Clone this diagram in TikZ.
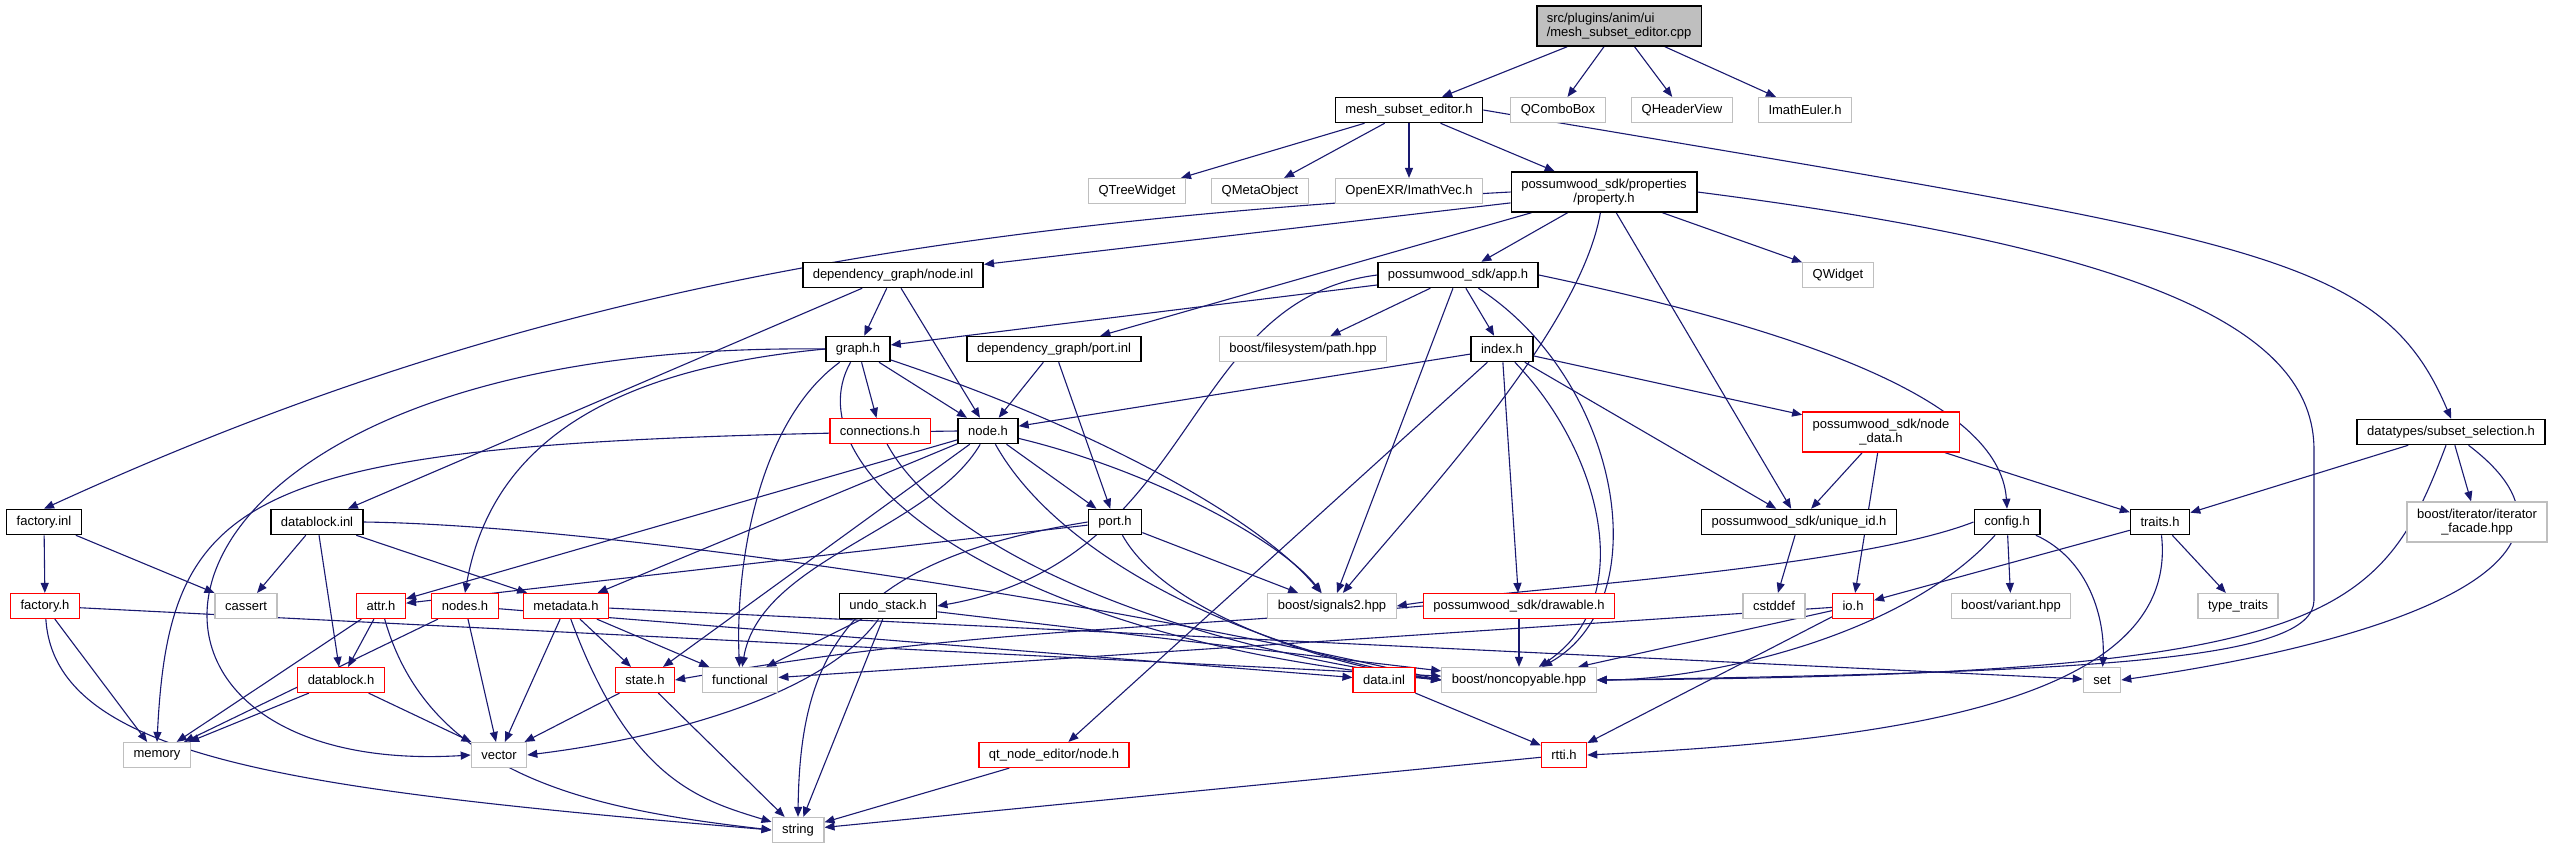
\documentclass[tikz,border=0pt]{standalone}
\usepackage{fontspec}
\setmainfont{Liberation Sans}
\usetikzlibrary{arrows.meta}
\definecolor{edgeblue}{RGB}{25,25,112}
\definecolor{extgray}{RGB}{191,191,191}
\definecolor{truncred}{RGB}{255,0,0}
\pgfdeclarelayer{edges}
\pgfsetlayers{edges,main}

\begin{document}
\begin{tikzpicture}[x=.5pt,y=-.5pt,
 file/.style={draw=black,line width=.75pt,fill=white,inner xsep=5pt,inner ysep=0pt,minimum height=12.5pt,font=\fontsize{6.5}{7.2}\selectfont},
 trunc/.style={file,draw=truncred,line width=.6pt},
 sys/.style={file,draw=extgray,line width=.6pt},
 two/.style={minimum height=20pt,align=center},
 dep/.style={draw=edgeblue,line width=.55pt,-{Triangle[length=5pt,width=4pt]}}]
\useasboundingbox (0,0) rectangle (2573,848);
\node[file,fill=extgray,two,align=left] (root) at (1619,26) {src/plugins/anim/ui\\/mesh\_subset\_editor.cpp};
\node[file] (mse) at (1409,110) {mesh\_subset\_editor.h};
\node[sys] (qcombo) at (1558,110) {QComboBox};
\node[sys] (qheader) at (1682,110) {QHeaderView};
\node[sys] (imatheuler) at (1805,110) {ImathEuler.h};
\node[sys] (qtree) at (1137,191) {QTreeWidget};
\node[sys] (qmeta) at (1260,191) {QMetaObject};
\node[sys] (imathvec) at (1409,191) {OpenEXR/ImathVec.h};
\node[file,two] (prop) at (1604,192) {possumwood\_sdk/properties\\/property.h};
\node[file] (nodeinl) at (893,275) {dependency\_graph/node.inl};
\node[file] (apph) at (1458,275) {possumwood\_sdk/app.h};
\node[sys] (qwidget) at (1838,275) {QWidget};
\node[file] (graphh) at (858,349) {graph.h};
\node[file] (portinl) at (1054,349) {dependency\_graph/port.inl};
\node[sys] (fspath) at (1303,349) {boost/filesystem/path.hpp};
\node[file] (indexh) at (1502,349) {index.h};
\node[trunc] (conn) at (880,431) {connections.h};
\node[file] (nodeh) at (988,431) {node.h};
\node[trunc,two] (nodedata) at (1881,432) {possumwood\_sdk/node\\\_data.h};
\node[file] (subsel) at (2451,432) {datatypes/subset\_selection.h};
\node[file] (factoryinl) at (44,522) {factory.inl};
\node[file] (datablockinl) at (317,522) {datablock.inl};
\node[file] (porth) at (1115,522) {port.h};
\node[file] (uniqueid) at (1799,522) {possumwood\_sdk/unique\_id.h};
\node[file] (configh) at (2007,522) {config.h};
\node[file] (traitsh) at (2160,522) {traits.h};
\node[sys,two] (iterfac) at (2477,522) {boost/iterator/iterator\\\_facade.hpp};
\node[trunc] (factoryh) at (45,606) {factory.h};
\node[sys] (cassert) at (246,606) {cassert};
\node[trunc] (attrh) at (381,606) {attr.h};
\node[trunc] (nodesh) at (465,606) {nodes.h};
\node[trunc] (metadatah) at (566,606) {metadata.h};
\node[file] (undostack) at (888,606) {undo\_stack.h};
\node[sys] (signals) at (1332,606) {boost/signals2.hpp};
\node[trunc] (drawable) at (1519,606) {possumwood\_sdk/drawable.h};
\node[sys] (cstddef) at (1774,606) {cstddef};
\node[trunc] (ioh) at (1853,606) {io.h};
\node[sys] (variant) at (2011,606) {boost/variant.hpp};
\node[sys] (typetraits) at (2238,606) {type\_traits};
\node[trunc] (datablockh) at (341,680) {datablock.h};
\node[trunc] (stateh) at (645,680) {state.h};
\node[sys] (functional) at (740,680) {functional};
\node[trunc] (datainl) at (1384,680) {data.inl};
\node[sys] (noncopy) at (1519,680) {boost/noncopyable.hpp};
\node[sys] (set) at (2102,680) {set};
\node[sys] (memory) at (157,755) {memory};
\node[sys] (vector) at (499,755) {vector};
\node[trunc] (qtnode) at (1054,755) {qt\_node\_editor/node.h};
\node[trunc] (rtti) at (1564,755) {rtti.h};
\node[sys] (string) at (798,830) {string};

\begin{pgfonlayer}{edges}
\foreach \src/\dst in {root/mse,root/qcombo,root/qheader,root/imatheuler,
 mse/qtree,mse/qmeta,mse/imathvec,mse/prop,
 prop/nodeinl,prop/portinl,prop/apph,prop/uniqueid,prop/qwidget,
 nodeinl/graphh,nodeinl/nodeh,nodeinl/datablockinl,
 apph/graphh,apph/fspath,apph/indexh,apph/signals,
 portinl/nodeh,portinl/porth,graphh/conn,graphh/nodeh,
 indexh/nodeh,indexh/nodedata,indexh/uniqueid,indexh/drawable,indexh/qtnode,
 nodeh/porth,nodeh/attrh,nodeh/metadatah,nodeh/stateh,
 porth/signals,porth/attrh,
 nodedata/uniqueid,nodedata/traitsh,nodedata/ioh,
 subsel/traitsh,subsel/iterfac,
 factoryinl/factoryh,factoryinl/cassert,
 datablockinl/cassert,datablockinl/datablockh,datablockinl/metadatah,
 factoryh/memory,attrh/datablockh,attrh/memory,nodesh/memory,nodesh/vector,
 metadatah/stateh,metadatah/functional,metadatah/vector,metadatah/set,
 undostack/functional,undostack/string,undostack/noncopy,
 uniqueid/cstddef,configh/variant,traitsh/typetraits,traitsh/ioh,
 drawable/noncopy,ioh/noncopy,ioh/rtti,ioh/functional,
 datablockh/memory,datablockh/vector,stateh/vector,stateh/string,
 nodesh/datainl,factoryh/noncopy,
 datainl/rtti,qtnode/string,rtti/string}
 \draw[dep] (\src) -- (\dst);

\draw[dep] (prop.west) .. controls (900,225) and (500,300) .. (factoryinl.north);
\draw[dep] (prop.east) .. controls (2150,250) and (2314,330) .. (2314,450) -- (2314,600) .. controls (2314,660) and (2100,672) .. (noncopy.east);
\draw[dep] (prop) .. controls (1580,330) and (1420,500) .. (signals);
\draw[dep] (mse.east) .. controls (2250,240) and (2380,250) .. (subsel.north);
\draw[dep] (apph.west) .. controls (1180,300) and (1200,560) .. (undostack.east);
\draw[dep] (apph.east) .. controls (1800,330) and (2000,400) .. (configh.north);
\draw[dep] (apph) .. controls (1620,380) and (1660,600) .. (noncopy);
\draw[dep] (indexh) .. controls (1600,450) and (1640,600) .. (noncopy);
\draw[dep] (graphh.west) .. controls (100,340) and (60,780) .. (vector.west);
\draw[dep] (graphh.west) .. controls (600,370) and (490,450) .. (nodesh.north);
\draw[dep] (graphh) .. controls (760,420) and (735,560) .. (functional);
\draw[dep] (graphh) .. controls (790,470) and (1000,640) .. (noncopy.west);
\draw[dep] (graphh) .. controls (1100,430) and (1260,520) .. (signals);
\draw[dep] (nodeh.west) .. controls (250,440) and (170,480) .. (memory.north);
\draw[dep] (nodeh) .. controls (930,530) and (760,560) .. (functional);
\draw[dep] (nodeh) .. controls (1060,560) and (1250,650) .. (noncopy.west);
\draw[dep] (nodeh) .. controls (1150,470) and (1280,540) .. (signals);
\draw[dep] (conn) .. controls (950,560) and (1200,650) .. (noncopy.west);
\draw[dep] (porth.west) .. controls (850,560) and (800,650) .. (string.north);
\draw[dep] (porth) .. controls (1170,620) and (1350,670) .. (noncopy.west);
\draw[dep] (datablockinl.east) .. controls (600,525) and (1100,600) .. (noncopy.west);
\draw[dep] (undostack) .. controls (820,700) and (650,740) .. (vector.east);
\draw[dep] (factoryh) .. controls (55,760) and (300,790) .. (string.west);
\draw[dep] (attrh) .. controls (430,780) and (600,810) .. (string.west);
\draw[dep] (metadatah) .. controls (630,780) and (700,800) .. (string);
\draw[dep] (drawable.west) to[out=185,in=10] (stateh.east);
\draw[dep] (subsel) .. controls (2380,620) and (2330,675) .. (noncopy.east);
\draw[dep] (subsel) .. controls (2620,560) and (2400,640) .. (set.east);
\draw[dep] (traitsh) .. controls (2180,700) and (1900,740) .. (rtti.east);
\draw[dep] (configh.west) .. controls (1850,570) and (1500,590) .. (signals.east);
\draw[dep] (configh) .. controls (1900,640) and (1700,680) .. (noncopy.east);
\draw[dep] (configh) .. controls (2090,560) and (2105,620) .. (set);
\end{pgfonlayer}
\end{tikzpicture}
\end{document}
